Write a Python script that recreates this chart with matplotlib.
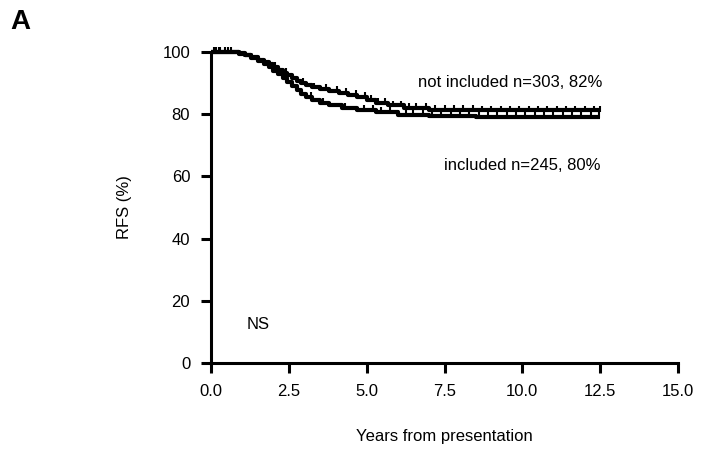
import numpy as np
import matplotlib
matplotlib.use("Agg")
import matplotlib.pyplot as plt

plt.rcParams['font.family'] = ['Liberation Sans', 'DejaVu Sans']

# Kaplan-Meier step data (years, RFS %)
notinc_t = [0, 0.9, 1.1, 1.3, 1.5, 1.7, 1.85, 2.0, 2.15, 2.3, 2.45, 2.6, 2.75, 2.9, 3.05, 3.25,
            3.5, 3.8, 4.1, 4.4, 4.7, 5.0, 5.3, 5.7, 6.2, 7.0, 8.5, 12.5]
notinc_s = [100, 99.6, 99.0, 98.3, 97.5, 96.7, 96.0, 95.2, 94.3, 93.4, 92.5, 91.6, 90.8, 90.0,
            89.3, 88.6, 88.0, 87.4, 86.8, 86.2, 85.5, 84.5, 83.6, 82.8, 82.1, 81.5, 81.2, 81.2]
notinc_cens = [0.15, 0.3, 0.55, 0.65, 2.05, 2.4, 2.95, 3.3, 3.7, 4.05, 4.35, 4.65, 4.95, 5.15, 5.35, 5.6,
               5.85, 6.1, 6.35, 6.6, 6.9, 7.2, 7.5, 7.8, 8.1, 8.4, 8.7, 9.0, 9.3, 9.6, 9.9, 10.2,
               10.5, 10.8, 11.1, 11.4, 11.7, 12.0, 12.3, 12.5]

inc_t = [0, 0.9, 1.1, 1.3, 1.5, 1.7, 1.85, 2.0, 2.15, 2.3, 2.45, 2.6, 2.75, 2.9, 3.05, 3.25,
         3.5, 3.8, 4.2, 4.7, 5.3, 6.0, 7.0, 8.5, 12.5]
inc_s = [100, 99.5, 98.9, 98.1, 97.2, 96.2, 95.2, 94.0, 92.8, 91.6, 90.3, 89.0, 87.8, 86.6,
         85.5, 84.5, 83.6, 82.8, 82.0, 81.3, 80.6, 79.9, 79.4, 79.0, 79.0]
inc_cens = [0.1, 0.25, 0.45, 1.9, 2.6, 3.2, 3.6, 4.3, 4.9, 5.2, 5.45, 5.75, 6.0, 6.25, 6.5, 6.8,
            7.1, 7.4, 7.7, 8.0, 8.3, 8.6, 8.9, 9.2, 9.5, 9.8, 10.1, 10.4, 10.7, 11.0, 11.3,
            11.6, 11.9, 12.2, 12.45]

labels = ["not included n=303, 82%", "included n=245, 80%"]
xticks = [0.0, 2.5, 5.0, 7.5, 10.0, 12.5, 15.0]
yticks = [0, 20, 40, 60, 80, 100]

fig = plt.figure(figsize=(7.02, 4.54), dpi=100)
ax = fig.add_axes([211/702, 1-363/454, (678-211)/702, (363-52)/454])

def step_at(t, s, x):
    idx = np.searchsorted(t, x, side='right') - 1
    return np.asarray(s)[idx]

for t, s, c in [(notinc_t, notinc_s, notinc_cens), (inc_t, inc_s, inc_cens)]:
    ax.step(t, s, where='post', color='black', lw=3.0, clip_on=False, solid_capstyle='butt')
    ax.plot(c, step_at(t, s, np.array(c)) + 0.6, ls='none', marker='|', ms=5, mew=1.5,
            color='black', clip_on=False)

ax.set_xlim(0, 15)
ax.set_ylim(0, 100)
ax.set_xticks(xticks)
ax.set_xticklabels([f"{v:.1f}" for v in xticks])
ax.set_yticks(yticks)
ax.set_yticklabels([str(v) for v in yticks])
for sp in ['top', 'right']:
    ax.spines[sp].set_visible(False)
for sp in ['left', 'bottom']:
    ax.spines[sp].set_linewidth(2.2)
ax.tick_params(axis='both', width=2.2, length=7, labelsize=12, pad=8)

ax.set_xlabel("Years from presentation", fontsize=12, labelpad=22)
ax.set_ylabel("RFS (%)", fontsize=12, labelpad=22)

ax.text(9.6, 90.3, labels[0], ha='center', va='center', fontsize=12)
ax.text(10.0, 63.5, labels[1], ha='center', va='center', fontsize=12)
ax.text(1.5, 12.3, "NS", ha='center', va='center', fontsize=12)

fig.text(10/702, 1-22/454, "A", fontsize=20, fontweight='bold', ha='left', va='center')

fig.savefig("out.png", dpi=100)
